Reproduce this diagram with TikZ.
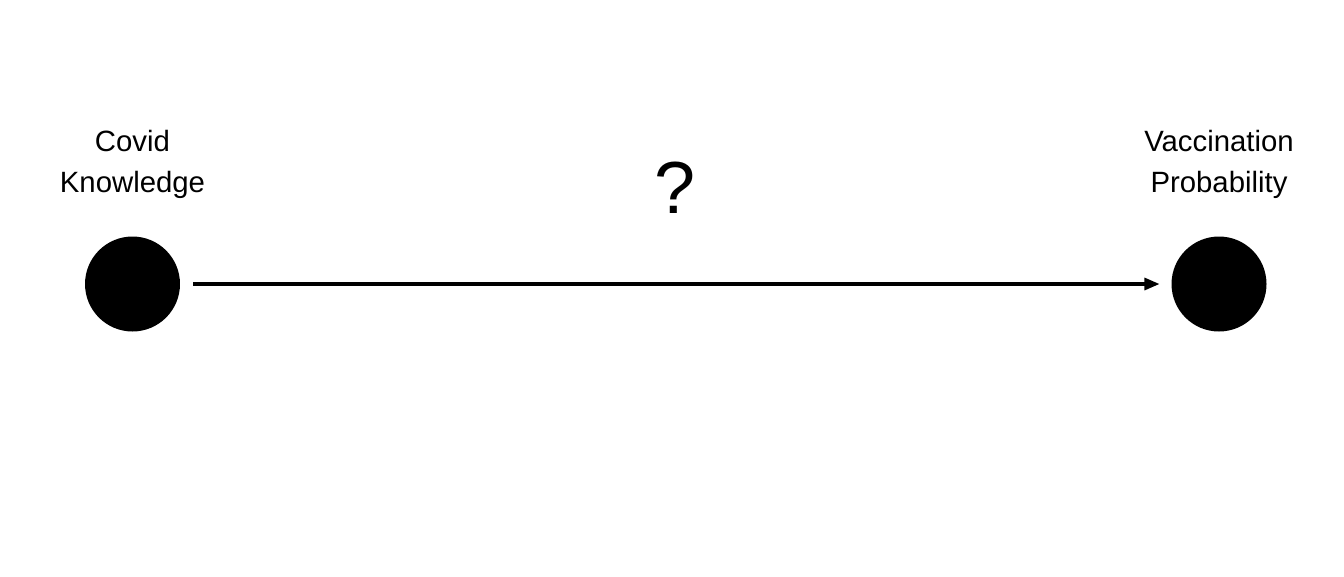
\documentclass[tikz,border=0pt]{standalone}
\usepackage{fontspec}
\setmainfont{Liberation Sans}
\usetikzlibrary{arrows.meta}
\begin{document}
\begin{tikzpicture}[x=0.02cm,y=-0.02cm,
  dot/.style={circle,fill=black,draw=none,minimum size=1.9cm,inner sep=0pt},
  lbl/.style={align=center,inner sep=0pt,font=\fontsize{16.7}{23.4}\selectfont},
  link/.style={line width=1.8pt,-{Triangle[length=8.6pt,width=6.8pt]},shorten <=7.4pt,shorten >=6.6pt}]
\useasboundingbox (0,0) rectangle (1344,576);
\node[dot] (ck) at (132.5,284) {};
\node[dot] (vp) at (1219,284) {};
\node[lbl] (ckl) at (132.5,164.5) {Covid\\Knowledge};
\node[lbl] (vpl) at (1219,164.5) {Vaccination\\Probability};
\node[inner sep=0pt,anchor=base,font=\fontsize{42}{50}\selectfont] (q) at (675,213) {?};
\draw[link] (ck) -- (vp);
\end{tikzpicture}
\end{document}
